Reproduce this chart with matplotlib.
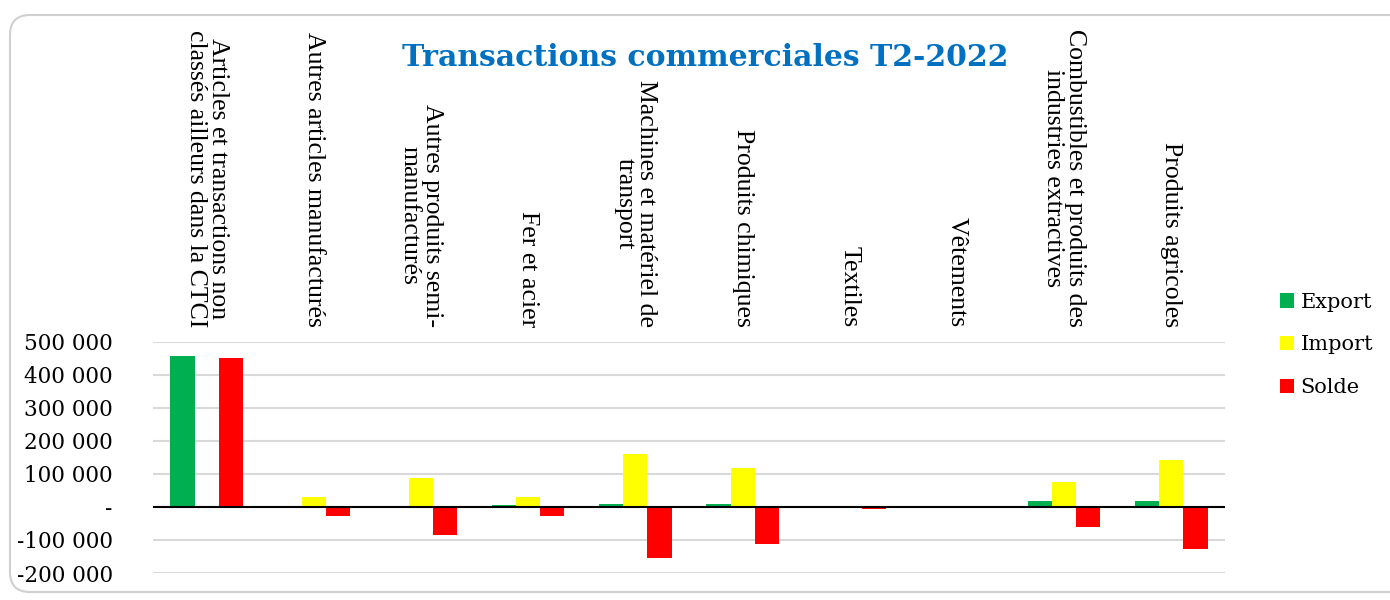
# Import Libraries
import numpy as np
import matplotlib
matplotlib.use('Agg')
import matplotlib.pyplot as plt
from matplotlib.patches import FancyBboxPatch
from matplotlib.ticker import FuncFormatter, MultipleLocator
import matplotlib.transforms as mtransforms

# Data
categories = ['Articles et transactions non\nclassés ailleurs dans la CTCI',
              'Autres articles manufacturés',
              'Autres produits semi-\nmanufacturés',
              'Fer et acier',
              'Machines et matériel de\ntransport',
              'Produits chimiques',
              'Textiles',
              'Vêtements',
              'Combustibles et produits des\nindustries extractives',
              'Produits agricoles']
export = [457000, 3000, 4000, 5000, 9000, 9000, 2000, 2000, 18000, 18000]
imports = [1000, 30000, 88000, 30000, 161000, 118000, 3000, 1000, 76000, 142000]
solde = [451000, -27000, -86000, -26000, -155000, -112000, -5000, -2000, -60000, -127000]

series_names = ['Export', 'Import', 'Solde']
colors = ['#00B050', '#FFFF00', '#FF0000']


def fmt_tick(v, pos):
    """Excel style number format: space as thousands sep, '-' for zero"""
    if abs(v) < 1:
        return '-'
    return f'{int(v):,}'.replace(',', ' ')


def main():
    fig = plt.figure(figsize=(13.9, 6), dpi=100)

    # rounded frame around the whole chart (in inches so the corners stay round)
    frame = FancyBboxPatch((0.10, 0.08), 14.0, 5.77,
                           boxstyle='round,pad=0,rounding_size=0.2',
                           transform=fig.dpi_scale_trans, facecolor='none',
                           edgecolor='#D0D0D0', linewidth=1.5, zorder=-1)
    fig.patches.append(frame)

    ax = fig.add_axes([153 / 1390, 1 - 573 / 600, (1225 - 153) / 1390, (573 - 342) / 600])
    ax.set_facecolor('none')

    x = np.arange(len(categories))
    width = 0.225
    for i, (vals, name, c) in enumerate(zip([export, imports, solde], series_names, colors)):
        ax.bar(x + (i - 1) * width, vals, width, color=c, label=name, zorder=2)

    ax.set_xlim(-0.5, len(categories) - 0.5)
    ax.set_ylim(-200000, 500000)
    ax.yaxis.set_major_locator(MultipleLocator(100000))
    ax.yaxis.set_major_formatter(FuncFormatter(fmt_tick))
    ax.grid(axis='y', color='#D9D9D9', linewidth=1.5, zorder=0)
    ax.set_axisbelow(True)
    ax.axhline(0, color='black', linewidth=1.5, zorder=3)
    for s in ax.spines.values():
        s.set_visible(False)
    ax.set_xticks([])
    ax.tick_params(axis='y', length=0, pad=29)
    for lab in ax.get_yticklabels():
        lab.set_fontfamily('DejaVu Serif')
        lab.set_fontsize(15.5)

    # category labels, rotated, sitting above the plot
    trans = mtransforms.blended_transform_factory(ax.transData, ax.transAxes)
    for xi, cat in zip(x, categories):
        ax.text(xi, 1.065, cat, transform=trans, rotation=270, ha='center', va='bottom',
                multialignment='center', fontsize=18.5, family='Liberation Serif',
                linespacing=1.0)

    # Title
    fig.text(705 / 1390, 1 - 58 / 600, 'Transactions commerciales T2-2022', ha='center', va='center',
             fontsize=21.5, fontweight='bold', family='DejaVu Serif', color='#0070C0')

    # Legend
    handles, labels = ax.get_legend_handles_labels()
    fig.legend(handles, labels, loc='center left', bbox_to_anchor=(1261 / 1390, 1 - 345 / 600),
               frameon=False, prop={'family': 'DejaVu Serif', 'size': 15},
               handlelength=0.7, handleheight=0.7, handletextpad=0.3, labelspacing=1.15)

    fig.savefig('out.png', dpi=100)


if __name__ == '__main__':
    main()
